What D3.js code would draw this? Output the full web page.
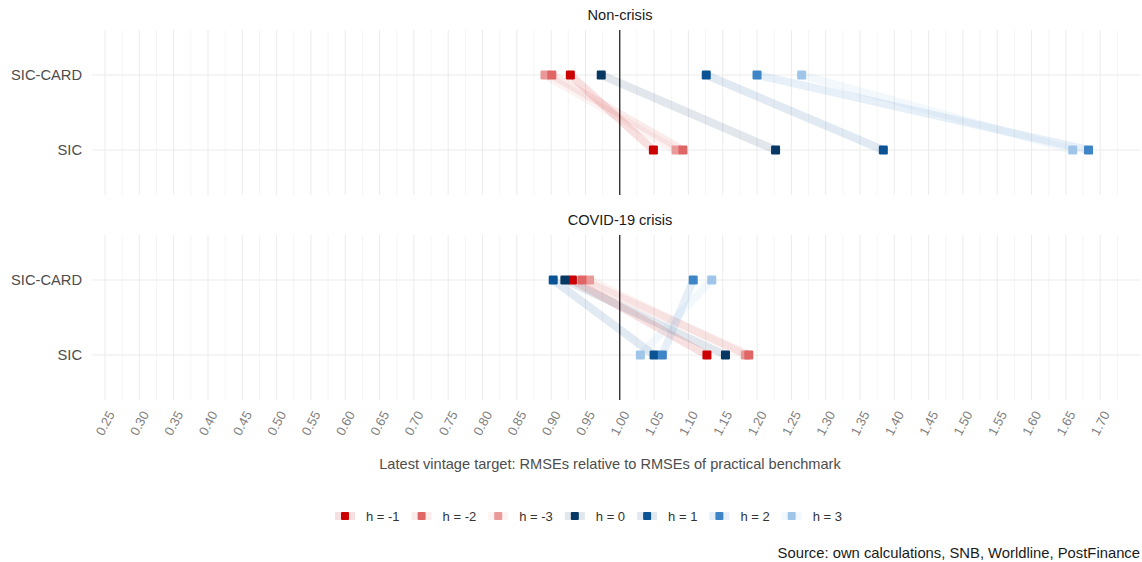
<!DOCTYPE html>
<html><head><meta charset="utf-8">
<script src="https://cdn.jsdelivr.net/npm/d3@7"></script>
<style>
html,body{margin:0;padding:0;background:#fff;}
svg{display:block;font-family:"Liberation Sans",Arial,Helvetica,sans-serif;}
</style></head>
<body>
<svg id="chart" width="1142" height="562"></svg>
<script>
// ---- data ----
const panels = ["Non-crisis", "COVID-19 crisis"];
const models = ["SIC-CARD", "SIC"];
const horizons = ["h = -1", "h = -2", "h = -3", "h = 0", "h = 1", "h = 2", "h = 3"];
const horizonColors = ["#cc0000", "#e06666", "#ea9999", "#073763", "#0b5394", "#3d85c6", "#9fc5e8"];
// RMSE ratios per horizon (order of `horizons`)
const nonCrisisSicCard = [0.928, 0.901, 0.891, 0.973, 1.126, 1.200, 1.265];
const nonCrisisSic     = [1.049, 1.092, 1.082, 1.227, 1.384, 1.683, 1.660];
const covidSicCard     = [0.931, 0.945, 0.956, 0.920, 0.903, 1.107, 1.134];
const covidSic         = [1.127, 1.188, 1.183, 1.154, 1.050, 1.062, 1.030];
const xTickLabels = ["0.25","0.30","0.35","0.40","0.45","0.50","0.55","0.60","0.65","0.70","0.75","0.80","0.85","0.90","0.95","1.00","1.05","1.10","1.15","1.20","1.25","1.30","1.35","1.40","1.45","1.50","1.55","1.60","1.65","1.70"];
const xTitle = "Latest vintage target: RMSEs relative to RMSEs of practical benchmark";
const sourceText = "Source: own calculations, SNB, Worldline, PostFinance";

const panelData = [
  {title: panels[0], card: nonCrisisSicCard, sic: nonCrisisSic},
  {title: panels[1], card: covidSicCard, sic: covidSic}
];

// ---- layout ----
const svg = d3.select("#chart");
const left = 92, right = 1140;
const panelTops = [30, 235], panelH = 165;
const x = d3.scaleLinear().domain([0.231, 1.758]).range([left, right]);
const majorTicks = xTickLabels.map(Number);
const minorTicks = majorTicks.map(v => v + 0.025).filter(v => v > 0.231 && v < 1.758);
const drawOrder = [2, 1, 0, 3, 4, 5, 6];

panelData.forEach((p, pi) => {
  const top = panelTops[pi];
  const y = d3.scalePoint().domain(models).range([top + 45, top + 120]);
  const g = svg.append("g");
  // strip title
  g.append("text").attr("x", 620).attr("y", top - 10)
    .attr("text-anchor", "middle").attr("font-size", 14.6).attr("fill", "#1a1a1a").text(p.title);
  // grid
  g.selectAll(".minor").data(minorTicks).join("line")
    .attr("x1", d => x(d)).attr("x2", d => x(d)).attr("y1", top).attr("y2", top + panelH)
    .attr("stroke", "#f3f3f3").attr("stroke-width", 0.8);
  g.selectAll(".major").data(majorTicks).join("line")
    .attr("x1", d => x(d)).attr("x2", d => x(d)).attr("y1", top).attr("y2", top + panelH)
    .attr("stroke", "#ebebeb").attr("stroke-width", 1);
  g.selectAll(".hgrid").data(models).join("line")
    .attr("x1", left).attr("x2", right).attr("y1", d => y(d)).attr("y2", d => y(d))
    .attr("stroke", "#ebebeb").attr("stroke-width", 1);
  // y labels
  g.selectAll(".ylab").data(models).join("text")
    .attr("x", 82).attr("y", d => y(d)).attr("dy", "0.35em").attr("text-anchor", "end")
    .attr("font-size", 14.7).attr("fill", "#4d4d4d").text(d => d);
  // bands
  drawOrder.forEach(i => {
    g.append("line")
      .attr("x1", x(p.card[i])).attr("y1", y("SIC-CARD"))
      .attr("x2", x(p.sic[i])).attr("y2", y("SIC"))
      .attr("stroke", horizonColors[i]).attr("stroke-opacity", 0.12).attr("stroke-width", 8);
  });
  // reference line
  g.append("line").attr("x1", x(1)).attr("x2", x(1)).attr("y1", top).attr("y2", top + panelH)
    .attr("stroke", "#000").attr("stroke-width", 1.1);
  // points
  drawOrder.forEach(i => {
    [["SIC-CARD", p.card[i]], ["SIC", p.sic[i]]].forEach(([m, v]) => {
      g.append("rect").attr("x", x(v) - 4.5).attr("y", y(m) - 4.5).attr("width", 9).attr("height", 9)
        .attr("rx", 1.2).attr("fill", horizonColors[i]);
    });
  });
});

// x axis tick labels (below bottom panel)
const axisG = svg.append("g");
majorTicks.forEach((v, i) => {
  const tx = x(v) + 6, ty = 412;
  axisG.append("text").attr("transform", `translate(${tx},${ty}) rotate(-62)`)
    .attr("text-anchor", "end").attr("dy", "0.35em").attr("font-size", 13).attr("fill", "#7f7f7f")
    .text(xTickLabels[i]);
});
svg.append("text").attr("x", 610).attr("y", 469).attr("text-anchor", "middle")
  .attr("font-size", 14.6).attr("fill", "#4d4d4d").text(xTitle);

// legend
const lg = svg.append("g");
let lx = 335;
const ly = 516;
horizons.forEach((h, i) => {
  const item = lg.append("g");
  item.append("rect").attr("x", lx).attr("y", ly - 4).attr("width", 20).attr("height", 8)
    .attr("fill", horizonColors[i]).attr("fill-opacity", 0.12);
  item.append("rect").attr("x", lx + 6).attr("y", ly - 4).attr("width", 8).attr("height", 8)
    .attr("rx", 1).attr("fill", horizonColors[i]);
  const t = item.append("text").attr("x", lx + 31).attr("y", ly).attr("dy", "0.35em")
    .attr("font-size", 13).attr("fill", "#333").text(h);
  lx += 31 + t.node().getComputedTextLength() + 12;
});

svg.append("text").attr("x", 1140).attr("y", 558).attr("text-anchor", "end")
  .attr("font-size", 14.8).attr("fill", "#1a1a1a").text(sourceText);
</script>
</body></html>
